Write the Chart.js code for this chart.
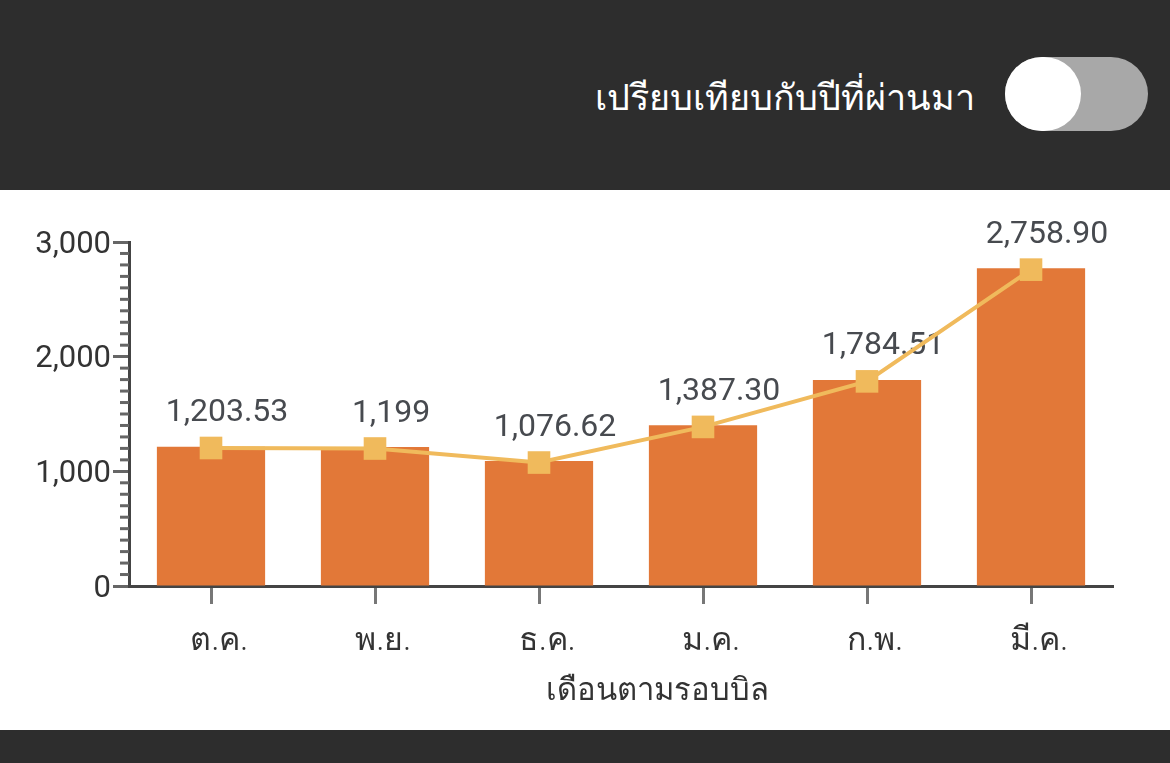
<!DOCTYPE html>
<html>
<head>
<meta charset="utf-8">
<script src="https://cdn.jsdelivr.net/npm/chart.js@4"></script>
<style>
  body { margin: 0; width: 1170px; height: 763px; background: #2d2d2d; overflow: hidden; font-family: "Noto Sans", sans-serif; }
  .header { position: absolute; left: 0; top: 0; width: 1170px; height: 190px; }
  .header .title { position: absolute; right: 195px; top: 70px; color: #fff; font-size: 36px; line-height: 54px; font-weight: 300; }
  .toggle { position: absolute; left: 1005px; top: 57px; width: 143px; height: 74px; border-radius: 37px; background: #a8a8a8; }
  .toggle .knob { position: absolute; left: 0; top: 0; width: 76px; height: 74px; border-radius: 37px; background: #fff; }
  .panel { position: absolute; left: 0; top: 190px; width: 1170px; height: 540px; background: #fff; }
</style>
</head>
<body>
<div class="header">
  <div class="title">เปรียบเทียบกับปีที่ผ่านมา</div>
  <div class="toggle"><div class="knob"></div></div>
</div>
<div class="panel"><canvas id="billChart"></canvas></div>
<script>
// monthly bill data
const months = ["ต.ค.", "พ.ย.", "ธ.ค.", "ม.ค.", "ก.พ.", "มี.ค."];
const barValues = [1215, 1212, 1090, 1402, 1797, 2770];
const lineValues = [1203.53, 1199, 1076.62, 1387.30, 1784.51, 2758.90];
const yTicks = [0, 1000, 2000, 3000];

const fmt = v => Number.isInteger(v)
  ? v.toLocaleString("en-US")
  : v.toLocaleString("en-US", { minimumFractionDigits: 2, maximumFractionDigits: 2 });

// value labels above the line points
const valueLabels = {
  id: "valueLabels",
  beforeDatasetsDraw(chart) {
    const meta = chart.getDatasetMeta(1);
    const ctx = chart.ctx;
    ctx.save();
    ctx.font = "400 32px Roboto, sans-serif";
    ctx.fillStyle = "#474a4f";
    ctx.textAlign = "center";
    ctx.textBaseline = "middle";
    meta.data.forEach((pt, i) => {
      ctx.fillText(fmt(lineValues[i]), pt.x + 16, pt.y - 35);
    });
    ctx.restore();
  }
};

// short minor ticks on the y axis
const minorTicks = {
  id: "minorTicks",
  afterDraw(chart) {
    const y = chart.scales.y;
    const ctx = chart.ctx;
    ctx.save();
    ctx.strokeStyle = "#666";
    ctx.lineWidth = 3;
    y.ticks.forEach(t => {
      if (yTicks.includes(t.value)) return;
      const py = y.getPixelForValue(t.value);
      ctx.beginPath();
      ctx.moveTo(y.right - 9, py);
      ctx.lineTo(y.right, py);
      ctx.stroke();
    });
    ctx.restore();
  }
};

const ctx = document.getElementById("billChart").getContext("2d");
const billChart = new Chart(ctx, {
  data: {
    labels: months,
    datasets: [
      {
        type: "bar",
        data: barValues,
        backgroundColor: "#e27838",
        categoryPercentage: 1,
        barPercentage: 0.66,
        order: 2
      },
      {
        type: "line",
        data: lineValues,
        borderColor: "#f0ba5c",
        borderWidth: 4,
        pointStyle: "rect",
        pointRadius: 16,
        pointBackgroundColor: "#f0ba5c",
        pointBorderWidth: 0,
        tension: 0,
        order: 1
      }
    ]
  },
  options: {
    responsive: true,
    maintainAspectRatio: false,
    animation: false,
    layout: { padding: { top: 52, right: 57, left: 0, bottom: 0 } },
    plugins: {
      legend: { display: false },
      tooltip: { enabled: false }
    },
    scales: {
      x: {
        afterFit: s => { s.height = 144; },
        grid: { offset: false, drawOnChartArea: false, tickLength: 18, tickColor: "#777", tickWidth: 3 },
        border: { color: "#444", width: 3 },
        ticks: { color: "#333", padding: 18, labelOffset: 8, font: { family: "'Noto Sans', sans-serif", size: 32, weight: 300 } },
        title: {
          display: true,
          text: "         เดือนตามรอบบิล",
          color: "#333",
          padding: { top: 0, bottom: 20 },
          font: { family: "'Noto Sans', sans-serif", size: 31, weight: 300 }
        }
      },
      y: {
        min: 0,
        max: 3000,
        afterFit: s => { s.width = 129; },
        grid: {
          drawOnChartArea: false,
          tickLength: 16,
          tickWidth: 3,
          tickColor: c => yTicks.includes(c.tick.value) ? "#666" : "rgba(0,0,0,0)"
        },
        border: { color: "#444", width: 3 },
        ticks: {
          stepSize: 100,
          autoSkip: false,
          padding: 2,
          labelOffset: 3,
          color: "#333",
          font: { family: "Roboto, sans-serif", size: 31, weight: 400 },
          callback: v => yTicks.includes(v) ? v.toLocaleString("en-US") : ""
        }
      }
    }
  },
  plugins: [valueLabels, minorTicks]
});
</script>
</body>
</html>
